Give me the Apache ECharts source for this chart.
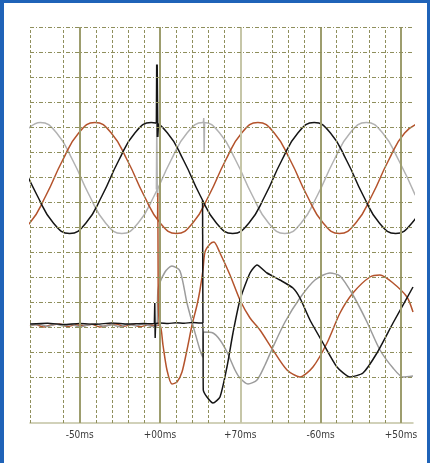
<!DOCTYPE html>
<html>
<head>
<meta charset="utf-8">
<script src="https://cdn.jsdelivr.net/npm/echarts@6/dist/echarts.min.js"></script>
<style>
html,body{margin:0;padding:0;background:#fff;}
#wrap{position:relative;width:430px;height:463px;}
#chart{position:absolute;left:0;top:0;width:430px;height:463px;}
#frame{position:absolute;left:0;top:0;width:430px;height:463px;box-sizing:border-box;border-left:4px solid #1f63b8;border-top:3px solid #1f63b8;border-right:3px solid #1f63b8;pointer-events:none;}
</style>
</head>
<body>
<div id="wrap"><div id="chart"></div><div id="frame"></div></div>
<script>
// tick labels (time axis, ms)
const tickValues = [-10, 0, 10, 20, 30];
const tickLabels = ['-50ms', '+00ms', '+70ms', '-60ms', '+50ms'];

// grid positions (axis units)
const minorX = [-16.1, -12, -8, -6, -4, -2, 2, 4, 6, 8, 14, 16, 18, 22, 24, 26, 28];
const majorX = [-10, 0, 20, 30];
const lightMajorX = [10];
const gridY = [1, 2, 3, 4, 5, 6, 7, 8, 9, 10, 11, 12, 13, 14, 15];

// upper traces: phase voltages (divisions)
const voltGrayT = [-16.93,-14.90,-12.87,-10.84,-8.81,-6.78,-4.75,-2.72,-0.69,1.34,3.37,5.40,7.43,9.46,11.49,13.52,15.55,17.58,19.61,21.64,23.67,25.70,27.73,29.76,31.79];
const voltGrayV = [10.76,11.18,10.76,9.65,8.27,7.16,6.74,7.16,8.27,9.65,10.76,11.18,10.76,9.65,8.27,7.16,6.74,7.16,8.27,9.65,10.76,11.18,10.76,9.65,8.27];
const voltRustT = [-18.25,-16.22,-14.19,-12.16,-10.13,-8.10,-6.07,-4.04,-2.01,0.02,2.05,4.08,6.11,8.14,10.17,12.20,14.23,16.26,18.29,20.32,22.35,24.38,26.41,28.44,30.47,32.50];
const voltRustV = [6.74,7.16,8.27,9.65,10.76,11.18,10.76,9.65,8.27,7.16,6.74,7.16,8.27,9.65,10.76,11.18,10.76,9.65,8.27,7.16,6.74,7.16,8.27,9.65,10.76,11.18];
const voltBlackT = [-17.34,-15.31,-13.28,-11.25,-9.22,-7.19,-5.16,-3.13,-1.10,0.93,2.96,4.99,7.02,9.05,11.08,13.11,15.14,17.17,19.20,21.23,23.26,25.29,27.32,29.35,31.38,33.41];
const voltBlackV = [9.65,8.27,7.16,6.74,7.16,8.27,9.65,10.76,11.18,10.76,9.65,8.27,7.16,6.74,7.16,8.27,9.65,10.76,11.18,10.76,9.65,8.27,7.16,6.74,7.16,8.27];

// lower traces: phase currents (divisions)
const currGrayT = [-16.19,-15,-14,-13,-12,-11,-10,-9,-8,-7,-6,-5,-4,-3,-2,-1,-0.37,-0.25,0.62,1.49,2.49,3.36,3.99,4.98,5.35,5.42,6.6,7.47,8.34,9.34,9.96,10.96,12.08,13.08,14.07,15.57,17.43,19.3,21.17,22.42,24.03,25.78,27.4,29.02,30.26,31.51];
const currGrayV = [3.06,3.1,3.02,3.12,3.04,3.1,3.0,3.08,3.13,3.03,3.09,3.01,3.11,3.05,3.12,3.02,3.08,4.48,5.2,5.44,5.24,3.96,3.2,2.08,1.8,2.8,2.76,2.48,2.0,1.28,0.96,0.72,0.88,1.48,2.2,3.2,4.16,4.88,5.16,5.04,4.28,3.2,2.08,1.36,1.0,1.04];
const currRustT = [-16.19,-15.5,-14.5,-13.5,-12.5,-11.5,-10.5,-9.5,-8.5,-7.5,-6.5,-5.5,-4.5,-3.5,-2.5,-1.5,-0.5,0,0.37,0.87,1.49,2.12,2.74,3.36,3.99,4.61,4.98,5.35,5.6,6.23,6.72,7.47,8.72,9.96,11.21,12.45,14.07,15.82,17.43,19.05,20.8,22.42,24.03,26.15,27.4,29.02,30.76,31.51];
const currRustV = [3.04,3.1,3.0,3.08,3.12,3.02,3.09,3.05,3.11,3.0,3.07,3.12,3.03,3.1,3.01,3.08,3.06,3.08,2.28,1.28,0.72,0.8,1.2,2.08,3.08,3.88,4.48,5.28,6.0,6.32,6.4,5.96,5.08,4.08,3.36,2.88,2.08,1.28,1.0,1.4,2.36,3.56,4.36,5.0,5.08,4.76,4.2,3.6];
const currBlackT = [-16.19,-14,-12,-10,-8,-6,-4,-2,-1,0,1,2,3,4,5,5.35,5.39,5.85,6.6,7.47,8.34,9.09,9.96,11.21,12.08,13.33,14.94,16.56,17.43,18.68,20.3,22.04,23.66,25.28,27.02,29.02,31.51];
const currBlackV = [3.12,3.15,3.1,3.14,3.11,3.16,3.12,3.14,3.13,3.16,3.14,3.17,3.15,3.18,3.16,3.16,0.48,0.2,-0.04,0.2,1.4,2.76,4.08,5.16,5.48,5.16,4.88,4.56,4.16,3.28,2.36,1.4,1.0,1.16,1.96,3.16,4.6];

// switching transients
const spikeBlackAT = [-0.42,-0.38,-0.3,-0.22];
const spikeBlackAV = [11.15,13.5,10.6,11.12];
const spikeBlackBT = [5.3,5.33,5.35];
const spikeBlackBV = [8.07,8.0,3.16];
const spikeBlackCT = [-0.7,-0.65,-0.6,-0.55];
const spikeBlackCV = [3.13,3.96,2.56,3.13];
const spikeGrayAT = [-0.45,-0.4,-0.33,-0.25];
const spikeGrayAV = [8.5,11.16,8.2,8.6];
const spikeGrayBT = [5.4,5.45,5.5,5.55];
const spikeGrayBV = [11.18,11.36,9.96,11.15];
const spikeRustT = [-0.3,-0.27,-0.22,-0.1];
const spikeRustV = [7.3,8.36,3.96,3.08];

const zip = (t, v) => t.map((x, i) => [x, v[i]]);

const GRAY = '#b2b2b2', GRAY2 = '#9c9c9c', RUST = '#b4532c', BLACK = '#151515';
const DASH = '#8f8f5c';

function trace(t, v, color, smooth, w) {
  return { type: 'line', data: zip(t, v), showSymbol: false, symbol: 'none', smooth: smooth,
    lineStyle: { color: color, width: w || 1.5 }, z: 3, silent: true, animation: false, clip: true };
}

const gridLines = [];
minorX.forEach(x => gridLines.push({ xAxis: x, lineStyle: { color: DASH, width: 1, type: [3, 2] } }));
majorX.forEach(x => gridLines.push({ xAxis: x, lineStyle: { color: '#9d9d6e', width: 2, type: 'solid' } }));
lightMajorX.forEach(x => gridLines.push({ xAxis: x, lineStyle: { color: '#c6c6a8', width: 2, type: 'solid' } }));
gridY.forEach(y => gridLines.push({ yAxis: y, lineStyle: { color: DASH, width: 1, type: [4, 2, 1, 2] } }));

const chart = echarts.init(document.getElementById('chart'), null, { renderer: 'canvas' });
chart.setOption({
  animation: false,
  backgroundColor: '#ffffff',
  grid: { left: 30, right: 17, top: 27, bottom: 40 },
  xAxis: {
    type: 'value', min: -16.19, max: 31.51,
    axisLine: { show: true, onZero: false, lineStyle: { color: '#c2c2a2', width: 1.5 } },
    axisTick: { show: false },
    splitLine: { show: false },
    axisLabel: {
      customValues: tickValues,
      formatter: v => { const i = tickValues.indexOf(Math.round(v)); return i >= 0 ? tickLabels[i] : ''; },
      margin: 7, fontSize: 10, color: '#3a3a3a',
      fontFamily: '"Liberation Sans Narrow", "DejaVu Sans Condensed", sans-serif'
    }
  },
  yAxis: { type: 'value', min: -0.84, max: 15, show: false },
  series: [
    { type: 'line', data: [], z: 1, silent: true,
      markLine: { silent: true, symbol: ['none', 'none'], label: { show: false }, animation: false, data: gridLines } },
    trace(voltGrayT, voltGrayV, GRAY, 0.5),
    trace(voltRustT, voltRustV, RUST, 0.5),
    trace(voltBlackT, voltBlackV, BLACK, 0.5),
    trace(currRustT, currRustV, RUST, 0.25),
    trace(currGrayT, currGrayV, GRAY2, 0.25),
    trace(currBlackT, currBlackV, BLACK, 0.2),
    trace(spikeGrayAT, spikeGrayAV, GRAY, false),
    trace(spikeGrayBT, spikeGrayBV, GRAY, false),
    trace(spikeRustT, spikeRustV, RUST, false),
    trace(spikeBlackAT, spikeBlackAV, BLACK, false, 2),
    trace(spikeBlackBT, spikeBlackBV, BLACK, false),
    trace(spikeBlackCT, spikeBlackCV, BLACK, false)
  ]
});
</script>
</body>
</html>
